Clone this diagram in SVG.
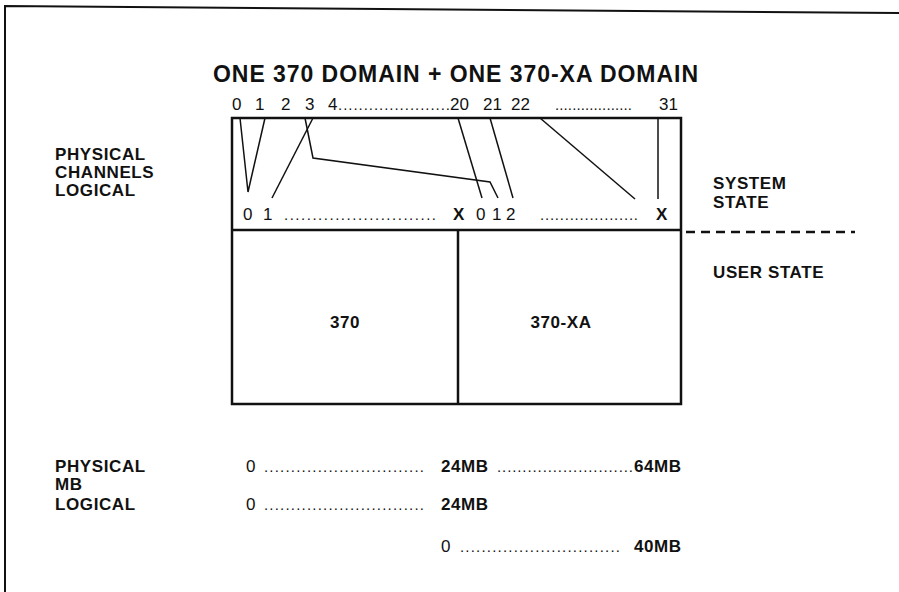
<svg xmlns="http://www.w3.org/2000/svg" width="899" height="592" viewBox="0 0 899 592">
<style>
text{font-family:"Liberation Sans",Arial,sans-serif;fill:#111}
.b{font-weight:bold;font-size:17px;letter-spacing:0.6px}
.r{font-size:17px}
.d{font-size:15px}
.t{font-weight:bold;font-size:23px}
.ln{fill:none;stroke:#111;stroke-width:1.5}
.box{fill:none;stroke:#111;stroke-width:2.5}
</style>
<rect width="899" height="592" fill="#fff"/>
<g id="frame"><path d="M5 592 V6 L899 13" fill="none" stroke="#111" stroke-width="2"/></g>
<g id="title"><text class="t" x="213" y="82" textLength="485" lengthAdjust="spacing">ONE 370 DOMAIN + ONE 370-XA DOMAIN</text></g>
<g id="physical-channels">
<text class="r" x="232" y="110">0</text>
<text class="r" x="255" y="110">1</text>
<text class="r" x="281" y="110">2</text>
<text class="r" x="305" y="110">3</text>
<text class="r" x="328" y="110">4</text>
<text class="d" x="338" y="110" textLength="112" lengthAdjust="spacing">......................</text>
<text class="r" x="450" y="110">20</text>
<text class="r" x="483" y="110">21</text>
<text class="r" x="511" y="110">22</text>
<text class="d" x="555" y="110" textLength="77" lengthAdjust="spacing">..................</text>
<text class="r" x="659" y="110">31</text>
</g>
<g id="box">
<rect class="box" x="232" y="118" width="449" height="286"/>
<line class="box" x1="232" y1="230" x2="681" y2="230"/>
<line class="box" x1="458" y1="230" x2="458" y2="404"/>
</g>
<g id="logical-channels">
<text class="r" x="243" y="220">0</text>
<text class="r" x="263" y="220">1</text>
<text class="d" x="284" y="220" textLength="152" lengthAdjust="spacing">...........................</text>
<text class="b" x="453" y="220">X</text>
<text class="r" x="476" y="220">0</text>
<text class="r" x="492" y="220">1</text>
<text class="r" x="506" y="220">2</text>
<text class="d" x="540" y="220" textLength="98" lengthAdjust="spacing">....................</text>
<text class="b" x="656" y="220">X</text>
</g>
<g id="connectors">
<polyline class="ln" points="240,118 248,192 265,118"/>
<line class="ln" x1="313" y1="118" x2="272" y2="198"/>
<polyline class="ln" points="305,118 313,158 490,182 498,198"/>
<line class="ln" x1="458" y1="118" x2="482" y2="198"/>
<line class="ln" x1="490" y1="118" x2="513" y2="198"/>
<line class="ln" x1="540" y1="118" x2="635" y2="199"/>
<line class="ln" x1="658" y1="118" x2="658" y2="199"/>
<line x1="686" y1="232" x2="855" y2="232" stroke="#111" stroke-width="2.5" stroke-dasharray="9,6"/>
</g>
<g id="domain-370"><text class="b" x="345" y="328" text-anchor="middle">370</text></g>
<g id="domain-370xa"><text class="b" x="561" y="328" text-anchor="middle">370-XA</text></g>
<g id="left-labels">
<text class="b" x="55" y="160">PHYSICAL</text>
<text class="b" x="55" y="178">CHANNELS</text>
<text class="b" x="55" y="196">LOGICAL</text>
</g>
<g id="state-labels">
<text class="b" x="713" y="189">SYSTEM</text>
<text class="b" x="713" y="208">STATE</text>
<text class="b" x="713" y="278">USER STATE</text>
</g>
<g id="mb-labels">
<text class="b" x="55" y="472">PHYSICAL</text>
<text class="b" x="55" y="490">MB</text>
<text class="b" x="55" y="510">LOGICAL</text>
</g>
<g id="mb-ranges">
<text class="r" x="246" y="472">0</text>
<text class="d" x="264" y="472" textLength="160" lengthAdjust="spacing">..............................</text>
<text class="b" x="441" y="472">24MB</text>
<text class="d" x="497" y="472" textLength="136" lengthAdjust="spacing">...........................</text>
<text class="b" x="634" y="472">64MB</text>
<text class="r" x="246" y="510">0</text>
<text class="d" x="264" y="510" textLength="160" lengthAdjust="spacing">..............................</text>
<text class="b" x="441" y="510">24MB</text>
<text class="r" x="441" y="552">0</text>
<text class="d" x="460" y="552" textLength="160" lengthAdjust="spacing">..............................</text>
<text class="b" x="634" y="552">40MB</text>
</g>
</svg>
